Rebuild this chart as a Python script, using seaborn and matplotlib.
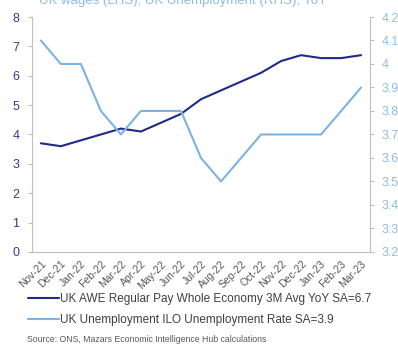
import matplotlib
matplotlib.use("Agg")
import matplotlib.pyplot as plt
import seaborn as sns
import pandas as pd

months = ["Nov-21", "Dec-21", "Jan-22", "Feb-22", "Mar-22", "Apr-22", "May-22", "Jun-22",
          "Jul-22", "Aug-22", "Sep-22", "Oct-22", "Nov-22", "Dec-22", "Jan-23", "Feb-23", "Mar-23"]
wages = [3.7, 3.6, 3.8, 4.0, 4.2, 4.1, 4.4, 4.7, 5.2, 5.5, 5.8, 6.1, 6.5, 6.7, 6.6, 6.6, 6.7]
unemployment = [4.1, 4.0, 4.0, 3.8, 3.7, 3.8, 3.8, 3.8, 3.6, 3.5, 3.6, 3.7, 3.7, 3.7, 3.7, 3.8, 3.9]
left_ticks = [0, 1, 2, 3, 4, 5, 6, 7, 8]
right_ticks = [3.2, 3.3, 3.4, 3.5, 3.6, 3.7, 3.8, 3.9, 4.0, 4.1, 4.2]
right_labels = ["3.2", "3.3", "3.4", "3.5", "3.6", "3.7", "3.8", "3.9", "4", "4.1", "4.2"]

wage_label = "UK AWE Regular Pay Whole Economy 3M Avg YoY SA=6.7"
unemp_label = "UK Unemployment ILO Unemployment Rate SA=3.9"
title = "UK wages (LHS), UK Unemployment (RHS), YoY"
source = "Source: ONS, Mazars Economic Intelligence Hub calculations"

DARK = "#1f2a8a"
LIGHT = "#7db3e3"
DARK_TXT = "#2e3b96"
LIGHT_TXT = "#8dbde9"
GRAY = "#bfbfbf"

sns.set_style("white")
plt.rcParams["font.family"] = ["Liberation Sans", "DejaVu Sans"]

df = pd.DataFrame({"x": range(len(months)), "wages": wages, "unemp": unemployment})

fig = plt.figure(figsize=(3.98, 3.47), dpi=100)
ax = fig.add_axes([0.080, 0.274, 0.850, 0.677])
ax2 = ax.twinx()

sns.lineplot(data=df, x="x", y="wages", ax=ax, color=DARK, linewidth=1.5, legend=False)
sns.lineplot(data=df, x="x", y="unemp", ax=ax2, color=LIGHT, linewidth=1.5, legend=False)

ax.set_xlim(-0.45, len(months) - 1 + 0.45)
ax.set_ylim(0, 8)
ax2.set_ylim(3.2, 4.2)
ax.set_yticks(left_ticks)
ax.set_yticklabels([str(t) for t in left_ticks], color=DARK_TXT, fontsize=9)
ax2.set_yticks(right_ticks)
ax2.set_yticklabels(right_labels, color=LIGHT_TXT, fontsize=9)
ax.set_xticks(range(len(months)))
ax.set_xticklabels(months, rotation=45, ha="right", rotation_mode="anchor", fontsize=7.5, color="#595959")
ax.set_xlabel("")
ax.set_ylabel("")
ax2.set_ylabel("")

for a in (ax, ax2):
    for s in a.spines.values():
        s.set_visible(False)
ax.spines["left"].set_visible(True)
ax.spines["left"].set_color(GRAY)
ax.spines["bottom"].set_visible(True)
ax.spines["bottom"].set_color(GRAY)
ax2.spines["right"].set_visible(True)
ax2.spines["right"].set_color(GRAY)

ax.tick_params(axis="y", direction="out", length=3, color=GRAY, pad=6)
ax.tick_params(axis="x", direction="out", length=3, color=GRAY, pad=2)
ax2.tick_params(axis="y", direction="out", length=3, color=GRAY, pad=5)
ax.grid(False)
ax2.grid(False)

from matplotlib.lines import Line2D
handles = [Line2D([], [], color=DARK, lw=1.5), Line2D([], [], color=LIGHT, lw=1.5)]
fig.legend(handles, [wage_label, unemp_label], loc="upper left", bbox_to_anchor=(0.07, 0.155),
           frameon=False, fontsize=8.5, handlelength=2.6, handletextpad=0.1, labelspacing=0.75,
           labelcolor="#404040", borderaxespad=0, borderpad=0)

fig.text(0.46, 1 - 4 / 347, title, ha="center", va="baseline", color=LIGHT_TXT, fontsize=9.5)
fig.text(0.068, 1 - 342 / 347, source, ha="left", va="baseline", color="#595959", fontsize=6.3)

fig.savefig("out.png", dpi=100)
